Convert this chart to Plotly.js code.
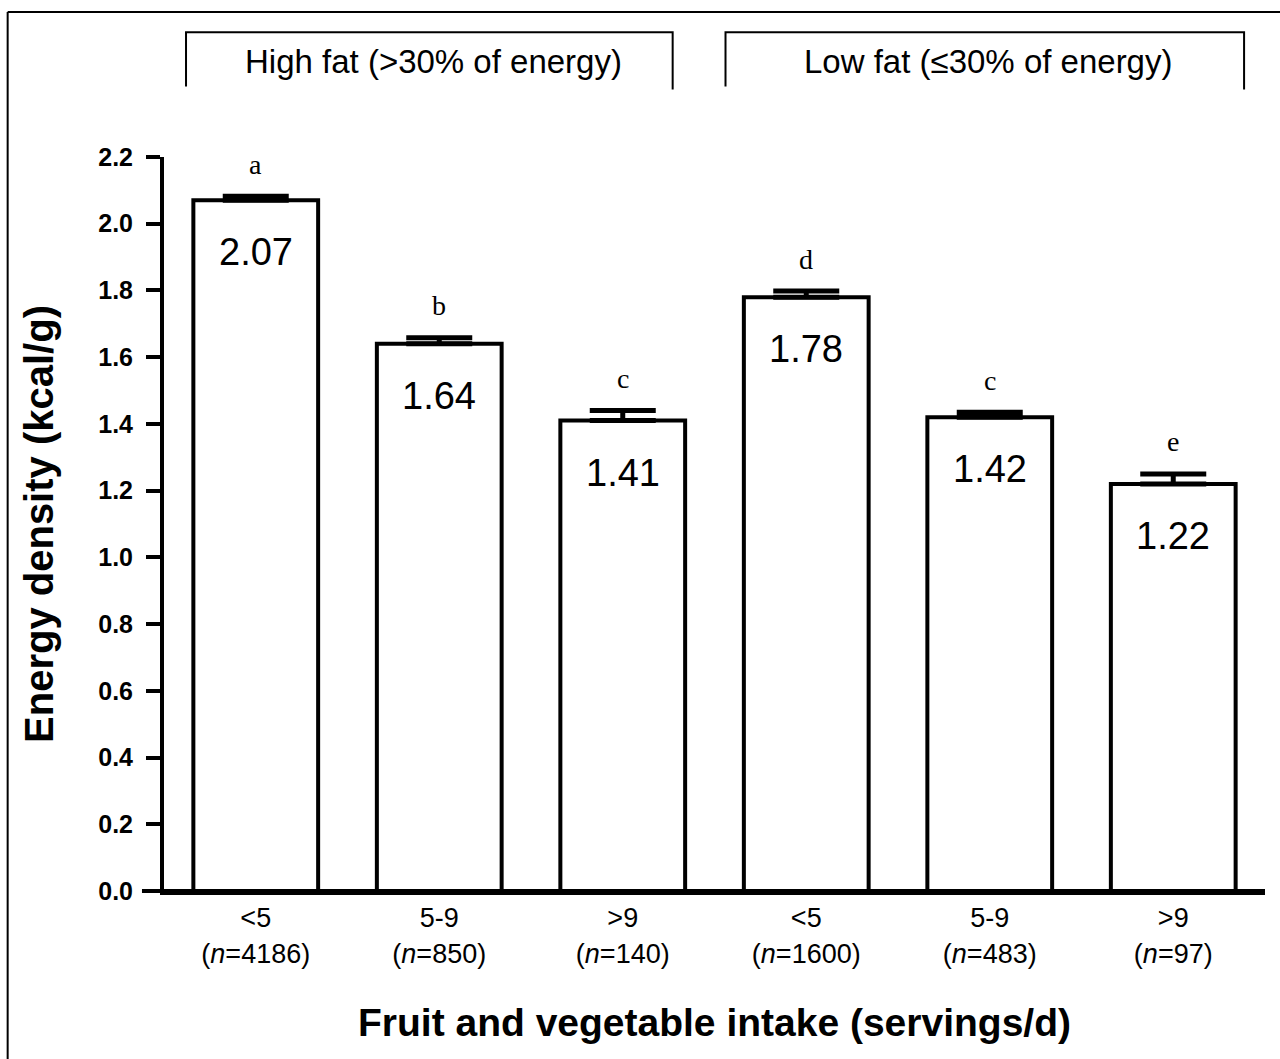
<!DOCTYPE html>
<html>
<head>
<meta charset="utf-8">
<script src="https://cdn.plot.ly/plotly-3.0.1.min.js"></script>
<style>
html,body{margin:0;padding:0;background:#fff;}
#chart{width:1280px;height:1059px;}
</style>
</head>
<body>
<div id="chart"></div>
<script>
// ---- data ----
const intakeLabels = ["<5", "5-9", ">9", "<5", "5-9", ">9"];
const sampleSizes = [4186, 850, 140, 1600, 483, 97];
const energyDensity = [2.07, 1.64, 1.41, 1.78, 1.42, 1.22];
const seErrors = [0.012, 0.018, 0.03, 0.018, 0.015, 0.03];
const sigLetters = ["a", "b", "c", "d", "c", "e"];
const groupNames = ["High fat (>30% of energy)", "Low fat (\u226430% of energy)"];
const yTicks = [0, 0.2, 0.4, 0.6, 0.8, 1.0, 1.2, 1.4, 1.6, 1.8, 2.0, 2.2];

const xIdx = intakeLabels.map((_, i) => i);
const tickText = intakeLabels.map((l, i) => l + "<br>(<i>n</i>=" + sampleSizes[i] + ")");

const trace = {
  type: "bar",
  x: xIdx,
  y: energyDensity,
  width: 0.68,
  marker: {color: "#ffffff", line: {color: "#000000", width: 4}},
  error_y: {type: "data", array: seErrors, arrayminus: seErrors.map(() => 0), symmetric: false,
            color: "#000000", thickness: 5, width: 33},
  hoverinfo: "skip",
  showlegend: false
};

const annotations = [];
energyDensity.forEach((v, i) => {
  annotations.push({x: i, y: v, xref: "x", yref: "y", text: v.toFixed(2), showarrow: false,
    yshift: -52, yanchor: "middle", font: {family: "Liberation Sans, Arial, sans-serif", size: 38, color: "#000"}});
  annotations.push({x: i, y: v + seErrors[i], xref: "x", yref: "y", text: sigLetters[i], showarrow: false,
    yshift: 32, yanchor: "middle", font: {family: "Liberation Serif, Times New Roman, serif", size: 28, color: "#000"}});
});
// group headers
const groupCenters = [0.245, 0.748];
groupNames.forEach((g, k) => {
  annotations.push({x: groupCenters[k], y: 1.13, xref: "paper", yref: "paper", text: g, showarrow: false,
    xanchor: "center", yanchor: "middle", font: {family: "Liberation Sans, Arial, sans-serif", size: 33, color: "#000"}});
});

const shapes = [
  // outer frame (top + left)
  {type: "line", xref: "paper", yref: "paper", x0: -0.142, x1: 1.02, y0: 1.1975, y1: 1.1975, line: {color: "#000", width: 2}},
  {type: "line", xref: "paper", yref: "paper", x0: -0.142, x1: -0.142, y0: 1.1975, y1: -0.25, line: {color: "#000", width: 2}},
  // high fat bracket
  {type: "path", xref: "paper", yref: "paper", path: "M 0.020 1.096 L 0.020 1.170 L 0.462 1.170 L 0.462 1.092", line: {color: "#000", width: 2}},
  // low fat bracket
  {type: "path", xref: "paper", yref: "paper", path: "M 0.510 1.096 L 0.510 1.170 L 0.981 1.170 L 0.981 1.092", line: {color: "#000", width: 2}},
  // x axis extension to the left
  {type: "line", xref: "paper", yref: "paper", x0: -0.02, x1: 1.0, y0: 0, y1: 0, line: {color: "#000", width: 4}}
];

const layout = {
  width: 1280, height: 1059,
  margin: {l: 164, r: 15, t: 157, b: 168},
  paper_bgcolor: "#ffffff", plot_bgcolor: "#ffffff",
  font: {family: "Liberation Sans, Arial, sans-serif", color: "#000"},
  xaxis: {
    range: [-0.5, 5.5], tickmode: "array", tickvals: xIdx, ticktext: tickText,
    showline: true, linecolor: "#000", linewidth: 4, ticks: "", showgrid: false, zeroline: false,
    tickfont: {size: 27, family: "Liberation Sans, Arial, sans-serif", color: "#000"},
    title: {text: "<b>Fruit and vegetable intake (servings/d)</b>", standoff: 42,
            font: {size: 39, family: "Liberation Sans, Arial, sans-serif", color: "#000"}},
    automargin: false, fixedrange: true
  },
  yaxis: {
    range: [0, 2.2], tickmode: "array", tickvals: yTicks, ticktext: yTicks.map(v => "<b>" + v.toFixed(1) + "</b>"),
    showline: true, linecolor: "#000", linewidth: 4, ticks: "outside", ticklen: 14, tickwidth: 4, tickcolor: "#000",
    ticklabelstandoff: 8,
    showgrid: false, zeroline: false,
    tickfont: {size: 25, family: "Liberation Sans, Arial, sans-serif", color: "#000"},
    title: {text: "<b>Energy density (kcal/g)</b>", standoff: 33,
            font: {size: 40, family: "Liberation Sans, Arial, sans-serif", color: "#000"}},
    automargin: false, fixedrange: true
  },
  annotations: annotations,
  shapes: shapes,
  bargap: 0.32
};

Plotly.newPlot("chart", [trace], layout, {staticPlot: true, displayModeBar: false});
</script>
</body>
</html>
